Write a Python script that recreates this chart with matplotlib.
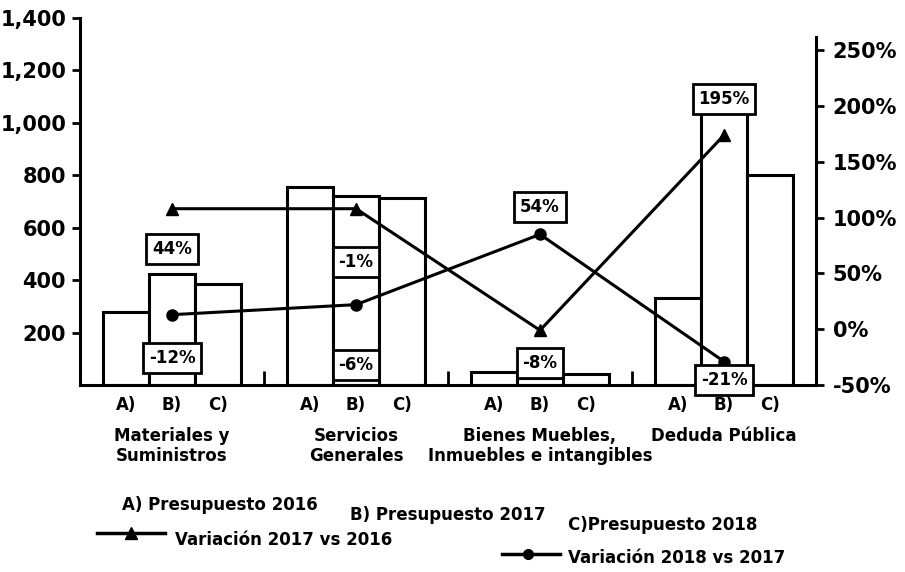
import matplotlib.pyplot as plt
from matplotlib.lines import Line2D
import numpy as np

# datos (millones)
categorias = ['Materiales y\nSuministros', 'Servicios\nGenerales',
              'Bienes Muebles,\nInmuebles e intangibles', 'Deduda Pública']
pres_2016 = [280, 755, 48, 330]
pres_2017 = [425, 720, 25, 1040]
pres_2018 = [385, 715, 40, 800]

# variaciones (eje derecho, %)
var_17_16 = [108, 108, -1, 174]
var_18_17 = [13, 22, 85, -29]

# etiquetas en cajas
etq_arriba = ['44%', '-1%', '54%', '195%']
etq_abajo = ['-12%', '-6%', '-8%', '-21%']
# altura de las cajas (en unidades del eje izquierdo)
y_arriba = [519, 469, 679, 1091]
y_abajo = [103, 76, 84, 18]

letras = ['A)', 'B)', 'C)']

plt.rcParams['font.family'] = 'DejaVu Sans'
plt.rcParams['font.weight'] = 'bold'

fig = plt.figure(figsize=(9.05, 5.72), dpi=100)
ax = fig.add_axes([0.0884, 0.327, 0.8133, 0.6416])

x = np.arange(len(categorias))
w = 0.25
lw = 2.2
for k, serie in enumerate([pres_2016, pres_2017, pres_2018]):
    ax.bar(x + (k - 1) * w, serie, width=w, color='white', edgecolor='black',
           linewidth=lw, zorder=2)

ax.set_xlim(-0.5, 3.5)
ax.set_ylim(0, 1400)
ax.set_yticks(range(200, 1401, 200))
ax.set_yticklabels(['{:,}'.format(v) for v in range(200, 1401, 200)], fontsize=15)
ax.tick_params(axis='y', length=6, width=2, pad=4)

# etiquetas A) B) C) bajo cada barra
pos = np.concatenate([x - w, x, x + w])
ax.set_xticks(np.sort(pos))
ax.set_xticklabels(letras * len(categorias), fontsize=12)
ax.tick_params(axis='x', length=0, pad=8)
ax.set_xticks([0.5, 1.5, 2.5], minor=True)
ax.tick_params(axis='x', which='minor', direction='in', length=10, width=2)

for i, c in enumerate(categorias):
    ax.text(i, -0.115, c, transform=ax.get_xaxis_transform(), ha='center',
            va='top', fontsize=12, linespacing=1.15)

for s in ['top', 'right']:
    ax.spines[s].set_visible(False)
for s in ['left', 'bottom']:
    ax.spines[s].set_linewidth(2.2)

ax2 = ax.twinx()
ax2.set_ylim(-50, 279)
ax2.set_yticks(range(-50, 251, 50))
ax2.set_yticklabels(['{}%'.format(v) for v in range(-50, 251, 50)], fontsize=15)
ax2.tick_params(axis='y', length=6, width=2, pad=6)
for s in ['top', 'left', 'bottom']:
    ax2.spines[s].set_visible(False)
ax2.spines['right'].set_linewidth(2.2)
ax2.spines['right'].set_bounds(-50, 262)

ax2.plot(x, var_17_16, color='black', lw=2.2, marker='^', markersize=9, zorder=3)
ax2.plot(x, var_18_17, color='black', lw=2.2, marker='o', markersize=8, zorder=3)

caja = dict(boxstyle='square,pad=0.35', facecolor='white', edgecolor='black',
            linewidth=2)
for i in range(len(categorias)):
    ax2.text(x[i], ax2.transData.inverted().transform(
        ax.transData.transform((0, y_arriba[i])))[1], etq_arriba[i],
        ha='center', va='center', fontsize=12, bbox=caja, zorder=5)
    ax2.text(x[i], ax2.transData.inverted().transform(
        ax.transData.transform((0, y_abajo[i])))[1], etq_abajo[i],
        ha='center', va='center', fontsize=12, bbox=caja, zorder=5, clip_on=False)

# leyenda
W, H = 905, 572
def fx(px):
    return px / W
def fy(py):
    return 1 - py / H

fig.text(fx(122), fy(505), 'A) Presupuesto 2016', fontsize=12, va='center')
fig.text(fx(350), fy(515), 'B) Presupuesto 2017', fontsize=12, va='center')
fig.text(fx(568), fy(525), 'C)Presupuesto 2018', fontsize=12, va='center')

fig.add_artist(Line2D([fx(97), fx(165)], [fy(533), fy(533)], color='black',
                      lw=2.5))
fig.add_artist(Line2D([fx(131)], [fy(533)], color='black', marker='^',
                      markersize=8))
fig.text(fx(175), fy(540), 'Variación 2017 vs 2016', fontsize=12, va='center')

fig.add_artist(Line2D([fx(502), fx(560)], [fy(554), fy(554)], color='black',
                      lw=2.5))
fig.add_artist(Line2D([fx(528)], [fy(554)], color='black', marker='o',
                      markersize=7))
fig.text(fx(568), fy(558), 'Variación 2018 vs 2017', fontsize=12, va='center')

fig.savefig('out.png', dpi=100)
